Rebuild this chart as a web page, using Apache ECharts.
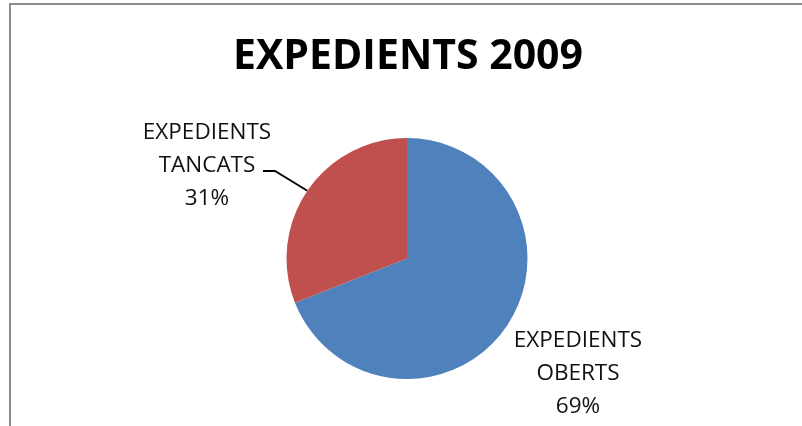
<!DOCTYPE html>
<html>
<head>
<meta charset="utf-8">
<script src="https://cdn.jsdelivr.net/npm/echarts@6/dist/echarts.min.js"></script>
<style>
html,body{margin:0;padding:0;background:#fff;}
#main{width:802px;height:426px;}
</style>
</head>
<body>
<div id="main"></div>
<script>
var titleText = 'EXPEDIENTS 2009';
var categories = ['EXPEDIENTS OBERTS', 'EXPEDIENTS TANCATS'];
var values = [69, 31];
var colors = ['#4F81BD', '#C0504D'];

var chart = echarts.init(document.getElementById('main'), null, {renderer: 'canvas'});

var data = categories.map(function (c, i) {
  var item = {name: c, value: values[i], itemStyle: {color: colors[i]}};
  if (i === 0) item.labelLine = {show: false};
  return item;
});

chart.setOption({
  animation: false,
  backgroundColor: '#fff',
  title: {
    text: titleText,
    left: 233,
    top: 35,
    padding: 0,
    textStyle: {
      fontFamily: 'Open Sans',
      fontWeight: 'bold',
      fontSize: 41,
      lineHeight: 44,
      color: '#000'
    }
  },
  graphic: [{
    type: 'rect',
    shape: {x: 10, y: 4, width: 900, height: 600},
    style: {fill: 'none', stroke: '#8c8c8c', lineWidth: 2},
    silent: true,
    z: 100
  }],
  series: [{
    type: 'pie',
    center: [407, 258.5],
    radius: [0, 120.5],
    startAngle: 90,
    clockwise: true,
    percentPrecision: 0,
    data: data,
    label: {
      show: true,
      position: 'outside',
      formatter: function (p) {
        return p.name.replace(' ', '\n') + '\n' + p.percent + '%';
      },
      fontFamily: 'Open Sans',
      fontSize: 22.5,
      lineHeight: 33,
      color: '#111',
      align: 'center'
    },
    labelLine: {
      show: true,
      length: 30,
      length2: 13,
      lineStyle: {color: '#000', width: 1.8}
    },
    labelLayout: function (p) {
      if (p.dataIndex === 1) {
        var res = {x: 207, y: 166, align: 'center', verticalAlign: 'middle'};
        if (p.labelLinePoints) {
          res.labelLinePoints = [p.labelLinePoints[0], [275, 171], [263, 171]];
        }
        return res;
      }
      return {x: 578, y: 374, align: 'center', verticalAlign: 'middle'};
    },
    emphasis: {disabled: true}
  }]
});
</script>
</body>
</html>
